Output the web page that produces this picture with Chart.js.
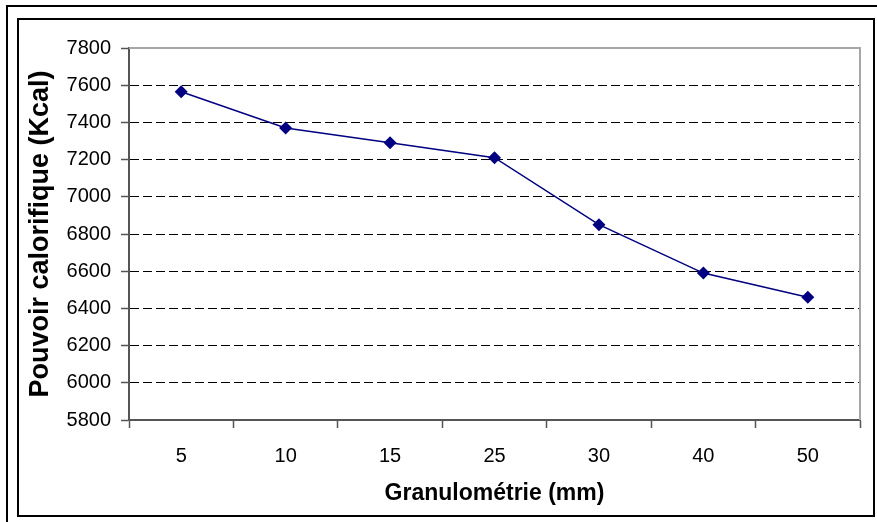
<!DOCTYPE html>
<html>
<head>
<meta charset="utf-8">
<script src="https://cdn.jsdelivr.net/npm/chart.js@4"></script>
<style>
    body { margin: 0; background: #fff; }
    #wrap { width: 877px; height: 522px; position: relative; }
</style>
</head>
<body>
<div id="wrap"><canvas id="chart"></canvas></div>
<script>
// Chart data
const categories = ['5', '10', '15', '25', '30', '40', '50'];
const pouvoirValues = [7565, 7370, 7290, 7210, 6850, 6590, 6460];
const yMin = 5800;
const yMax = 7800;
const yStep = 200;

// Frames around the chart and the gray plot border (top / right)
const framePlugin = {
    id: 'frame',
    beforeDraw(chart) {
        const ctx = chart.ctx;
        ctx.save();
        ctx.fillStyle = '#fff';
        ctx.fillRect(0, 0, chart.width, chart.height);
        ctx.strokeStyle = '#000';
        ctx.lineWidth = 2;
        // outer frame (only top and left are visible)
        ctx.beginPath();
        ctx.moveTo(7, chart.height);
        ctx.lineTo(7, 6);
        ctx.lineTo(chart.width, 6);
        ctx.stroke();
        // inner frame
        ctx.strokeRect(18, 19, 856, 497);
        ctx.restore();
    },
    beforeDatasetsDraw(chart) {
        const a = chart.chartArea;
        const ctx = chart.ctx;
        ctx.save();
        ctx.strokeStyle = '#a6a6a6';
        ctx.lineWidth = 2;
        ctx.beginPath();
        ctx.moveTo(a.left, a.top);
        ctx.lineTo(a.right, a.top);
        ctx.lineTo(a.right, a.bottom);
        ctx.stroke();
        ctx.restore();
    }
};

const ctx = document.getElementById('chart').getContext('2d');

new Chart(ctx, {
    type: 'line',
    data: {
        labels: categories,
        datasets: [{
            label: 'Pouvoir calorifique',
            data: pouvoirValues,
            borderColor: '#000080',
            backgroundColor: '#000080',
            borderWidth: 1.5,
            pointStyle: 'rectRot',
            pointRadius: 6.5,
            pointHoverRadius: 6.5,
            pointBorderWidth: 0,
            tension: 0
        }]
    },
    options: {
        responsive: true,
        maintainAspectRatio: false,
        animation: false,
        layout: {
            padding: { left: 20, top: 48, right: 17, bottom: 8 }
        },
        plugins: {
            legend: { display: false },
            tooltip: { enabled: false }
        },
        scales: {
            x: {
                offset: true,
                grid: {
                    offset: true,
                    drawOnChartArea: false,
                    tickLength: 8,
                    tickColor: '#555',
                    tickWidth: 1.5
                },
                border: { color: '#555', width: 2 },
                ticks: {
                    color: '#000',
                    padding: 16,
                    maxRotation: 0,
                    font: { family: 'Liberation Sans, Arial, sans-serif', size: 20 }
                },
                title: {
                    display: true,
                    text: 'Granulométrie (mm)',
                    color: '#000',
                    padding: { top: 0, bottom: 7 },
                    font: { family: 'Liberation Sans, Arial, sans-serif', size: 23, weight: 'bold' }
                },
                afterFit(scale) { scale.height = 94; }
            },
            y: {
                min: yMin,
                max: yMax,
                ticks: {
                    stepSize: yStep,
                    color: '#000',
                    padding: 10,
                    callback: function(value) { return String(value); },
                    font: { family: 'Liberation Sans, Arial, sans-serif', size: 20 }
                },
                grid: {
                    color: function(c) {
                        if (c.tick && (c.tick.value === yMax || c.tick.value === yMin)) return 'rgba(0,0,0,0)';
                        return '#000';
                    },
                    lineWidth: 1,
                    tickLength: 8,
                    tickColor: '#555',
                    tickWidth: 1.5
                },
                border: { color: '#555', width: 2, dash: [9, 4] },
                title: {
                    display: true,
                    text: 'Pouvoir calorifique (Kcal)',
                    color: '#000',
                    padding: { top: 4, bottom: 0 },
                    font: { family: 'Liberation Sans, Arial, sans-serif', size: 27, weight: 'bold' }
                },
                afterFit(scale) { scale.width = 109; }
            }
        }
    },
    plugins: [framePlugin]
});
</script>
</body>
</html>
